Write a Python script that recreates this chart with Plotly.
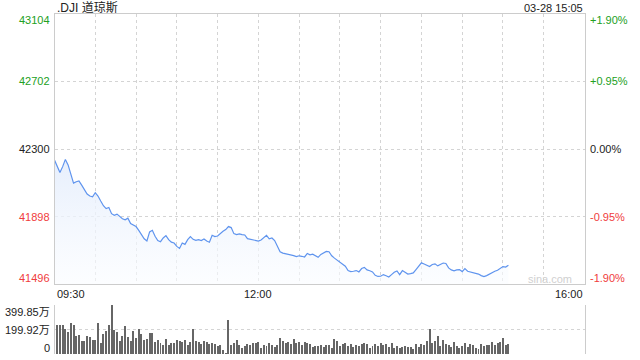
import plotly.graph_objects as go

# ---------------- data ----------------
title_text = ".DJI 道琼斯"
stamp_text = "03-28 15:05"
prev_close = 42300
y_ticks = [43104, 42702, 42300, 41898, 41496]
vol_ticks = [0, 199.92, 399.85]
vol_tick_text = ["0", "199.92万", "399.85万"]
x_tick_minutes = [0, 150, 390]
x_tick_text = ["09:30", "12:00", "16:00"]

# minutes after 09:30, two-minute samples up to 15:04
minutes = list(range(0, 335, 2))

closes = [
    42234, 42195, 42160, 42195, 42238, 42205, 42150, 42097, 42105, 42110,
    42085, 42060, 42032, 42020, 42015, 42040, 42020, 41990, 41962, 41945,
    41952, 41915, 41905, 41912, 41898, 41885, 41878, 41888, 41856, 41848,
    41838, 41815, 41792, 41765, 41752, 41806, 41816, 41780, 41755, 41748,
    41770, 41784, 41760, 41745, 41740, 41720, 41708, 41740, 41732, 41760,
    41778, 41762, 41756, 41760, 41755, 41764, 41752, 41745, 41786, 41778,
    41782, 41798, 41810, 41820, 41838, 41832, 41796, 41790, 41794, 41790,
    41788, 41766, 41762, 41758, 41756, 41752, 41758, 41775, 41786, 41765,
    41770, 41755, 41720, 41688, 41680, 41677, 41675, 41670, 41665, 41659,
    41664, 41661, 41657, 41678, 41670, 41674, 41662, 41655, 41672, 41680,
    41690, 41688, 41664, 41650, 41638, 41624, 41616, 41602, 41576, 41570,
    41572, 41576, 41568, 41588, 41595, 41580, 41575, 41568, 41548, 41541,
    41542, 41552, 41545, 41538, 41552, 41566, 41574, 41552, 41576, 41565,
    41555, 41558, 41562, 41582, 41605, 41622, 41615, 41606, 41600, 41612,
    41616, 41604, 41612, 41621, 41618, 41592, 41580, 41574, 41580, 41582,
    41570, 41588, 41572, 41568, 41564, 41560, 41555, 41546, 41540, 41546,
    41556, 41566, 41572, 41578, 41588, 41600, 41597, 41608,
]

volumes = [  # 万
    228, 237, 237, 240, 205, 180, 250, 240, 150, 155,
    110, 108, 145, 135, 118, 112, 255, 90, 163, 185,
    237, 400, 195, 180, 110, 150, 228, 140, 108, 190,
    128, 200, 160, 115, 125, 170, 168, 100, 112, 87,
    75, 120, 70, 90, 92, 115, 103, 100, 115, 72,
    100, 201, 110, 100, 82, 110, 100, 80, 88, 82,
    68, 70, 30, 6, 277, 73, 90, 114, 73, 46,
    65, 82, 70, 92, 87, 100, 50, 70, 62, 87,
    70, 56, 73, 128, 105, 92, 98, 84, 125, 92,
    95, 72, 95, 87, 80, 55, 65, 65, 70, 55,
    73, 73, 46, 120, 105, 62, 85, 87, 67, 80,
    60, 70, 65, 80, 87, 85, 46, 65, 82, 65,
    87, 73, 82, 60, 92, 46, 65, 50, 54, 65,
    60, 54, 40, 78, 60, 82, 70, 110, 201, 90,
    105, 147, 65, 115, 85, 73, 56, 100, 62, 52,
    65, 87, 55, 82, 73, 48, 40, 82, 62, 73,
    70, 95, 73, 87, 101, 128, 70, 82,
]

# ---------------- style ----------------
W, H = 640, 360
PL, PR = 54.5, 584.5
MAIN_T, MAIN_B = 14, 284
VOL_T, VOL_B = 305, 354
GREEN = "#22a022"
RED = "#f03c3c"
BLACK = "#222222"
FONT = "Liberation Sans, Arial, Noto Sans CJK SC, sans-serif"
GRID = "#d4d4d4"
BORDER = "#cccccc"
LINE = "#5f94ee"


def px_x(p):
    return p / W


def px_y(p):
    return 1 - p / H


fig = go.Figure()

fig.add_trace(go.Scatter(
    x=minutes, y=closes, mode="lines",
    line=dict(color=LINE, width=1.2),
    fill="tozeroy",
    fillgradient=dict(
        type="vertical",
        colorscale=[[0, "rgba(250,252,255,0.6)"], [1, "rgba(228,237,252,0.9)"]],
        start=y_ticks[-1], stop=max(closes),
    ),
    hoverinfo="skip", xaxis="x", yaxis="y",
))

fig.add_trace(go.Bar(
    x=minutes, y=volumes, xaxis="x2", yaxis="y2",
    marker=dict(color="#666666", line=dict(width=0)),
    width=1.45, hoverinfo="skip",
))

ann = []
ann.append(dict(text=title_text, x=px_x(55), y=px_y(7.5), xref="paper", yref="paper",
                xanchor="left", yanchor="middle", showarrow=False,
                font=dict(size=12, color=BLACK, family=FONT)))
ann.append(dict(text=stamp_text, x=px_x(585), y=px_y(7.5), xref="paper", yref="paper",
                xanchor="right", yanchor="middle", showarrow=False,
                font=dict(size=11, color=BLACK, family=FONT)))

for i, v in enumerate(y_ticks):
    if v > prev_close:
        col = GREEN
    elif v < prev_close:
        col = RED
    else:
        col = BLACK
    pct = (v - prev_close) / prev_close * 100
    ptxt = "0.00%" if abs(pct) < 0.005 else f"{pct:+.2f}%"
    shift = -6 if i == 0 else (6 if i == len(y_ticks) - 1 else 0)
    ann.append(dict(text=str(v), x=px_x(51.5), y=v, xref="paper", yref="y",
                    xanchor="right", yanchor="middle", yshift=shift, showarrow=False,
                    font=dict(size=11, color=col, family=FONT)))
    ann.append(dict(text=ptxt, x=px_x(588), y=v, xref="paper", yref="y",
                    xanchor="left", yanchor="middle", yshift=shift, showarrow=False,
                    font=dict(size=11, color=col, family=FONT)))

anchors = ["left", "center", "right"]
for m, t, a in zip(x_tick_minutes, x_tick_text, anchors):
    ann.append(dict(text=t, x=m, y=px_y(294), xref="x", yref="paper",
                    xanchor=a, yanchor="middle", showarrow=False,
                    font=dict(size=11, color=BLACK, family=FONT)))

vol_shift = {0: 6, 1: 0, 2: -7}
for i, (v, t) in enumerate(zip(vol_ticks, vol_tick_text)):
    ann.append(dict(text=t, x=px_x(52), y=v, xref="paper", yref="y2",
                    xanchor="right", yanchor="middle", yshift=vol_shift[i], showarrow=False,
                    font=dict(size=11, color=BLACK, family=FONT)))

ann.append(dict(text="sina.com", x=px_x(574), y=px_y(279), xref="paper", yref="paper",
                xanchor="right", yanchor="middle", showarrow=False,
                font=dict(size=11, color="#d0d0d0", family=FONT)))

fig.update_layout(
    width=W, height=H,
    margin=dict(l=0, r=0, t=0, b=0),
    paper_bgcolor="white", plot_bgcolor="white",
    showlegend=False, bargap=0,
    annotations=ann,
    xaxis=dict(domain=[px_x(PL), px_x(PR)], range=[0, 390], anchor="y",
               tickvals=list(range(30, 390, 30)), showticklabels=False, ticks="",
               showgrid=True, gridcolor=GRID, griddash="dot", gridwidth=1,
               showline=True, mirror=True, linecolor=BORDER, linewidth=1,
               zeroline=False, fixedrange=True),
    yaxis=dict(domain=[px_y(MAIN_B), px_y(MAIN_T)], range=[y_ticks[-1], y_ticks[0]], anchor="x",
               tickvals=y_ticks, showticklabels=False, ticks="",
               showgrid=True, gridcolor=GRID, griddash="dot", gridwidth=1,
               showline=True, mirror=True, linecolor=BORDER, linewidth=1,
               zeroline=False, fixedrange=True),
    xaxis2=dict(domain=[px_x(PL), px_x(PR)], range=[0, 390], anchor="y2",
                showticklabels=False, ticks="", showgrid=False,
                showline=False, zeroline=False, fixedrange=True),
    yaxis2=dict(domain=[px_y(VOL_B), px_y(VOL_T)], range=[0, vol_ticks[-1]], anchor="x2",
                tickvals=vol_ticks, showticklabels=False, ticks="",
                showgrid=True, gridcolor=GRID, griddash="dot", gridwidth=1,
                showline=True, mirror=True, linecolor=BORDER, linewidth=1,
                zeroline=False, fixedrange=True),
)

fig.write_html(
    "out.html",
    config={"displayModeBar": False, "staticPlot": True},
    post_script="document.body.style.margin='0';document.body.style.padding='0';",
)
